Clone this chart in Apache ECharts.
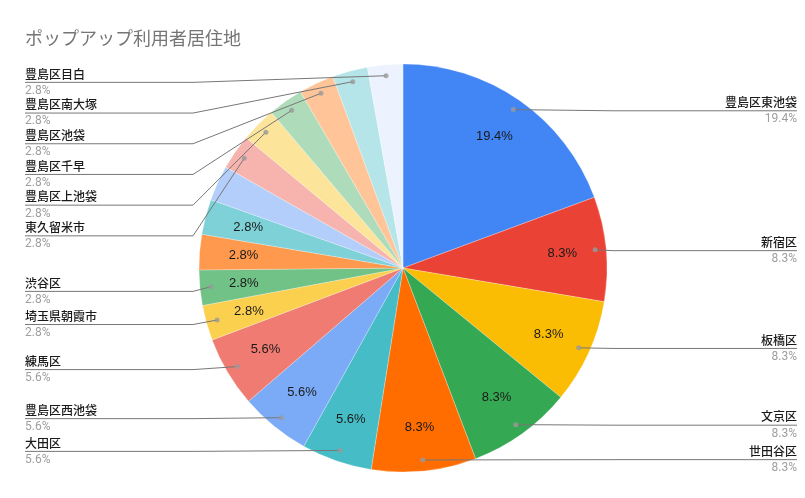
<!DOCTYPE html>
<html>
<head>
<meta charset="utf-8">
<script src="https://cdn.jsdelivr.net/npm/echarts@6/dist/echarts.min.js"></script>
<style>
  html, body { margin: 0; padding: 0; background: #fff; }
  #chart { width: 805px; height: 498px; }
</style>
</head>
<body>
<div id="chart"></div>
<script>
// ---- data ----
const titleText = 'ポップアップ利用者居住地';
const categories = ['豊島区東池袋', '新宿区', '板橋区', '文京区', '世田谷区', '大田区', '豊島区西池袋', '練馬区',
  '埼玉県朝霞市', '渋谷区', 'その他1', 'その他2', 'その他3', '東久留米市', '豊島区上池袋', '豊島区千早',
  '豊島区池袋', '豊島区南大塚', '豊島区目白'];
const values = [19.4, 8.3, 8.3, 8.3, 8.3, 5.6, 5.6, 5.6, 2.8, 2.8, 2.8, 2.8, 2.8, 2.8, 2.8, 2.8, 2.8, 2.8, 2.8];
const colors = ['#4285f4', '#ea4335', '#fbbc04', '#34a853', '#ff6d01', '#46bdc6', '#7baaf7', '#f07b72', '#fcd04f',
  '#71c287', '#ff994d', '#7ed1d7', '#b3cefb', '#f7b4ae', '#fde49b', '#aedcba', '#ffc599', '#b5e5e8', '#ecf3fe'];
const showOuterLabel = [1, 1, 1, 1, 1, 1, 1, 1, 1, 1, 0, 0, 0, 1, 1, 1, 1, 1, 1];
const showInnerLabel = [1, 1, 1, 1, 1, 1, 1, 1, 1, 1, 1, 1, 0, 0, 0, 0, 0, 0, 0];

// ---- layout/style constants ----
const CX = 403, CY = 268, R = 204, R_DOT = 193, ELBOW = 210;
const VIEW_LEFT = 25, VIEW_TOP = 67, VIEW_RIGHT = 8, VIEW_BOTTOM = 24;
const RIGHT_DY = 2;
const FONT = 'Roboto, "Noto Sans CJK JP", sans-serif';
const LH = 16.7;

const total = values.reduce((a, b) => a + b, 0);
const midAngles = [];   // in value units (for the polar angle axis)
let cum = 0;
values.forEach((v) => { midAngles.push(cum + v / 2); cum += v; });
const dotData = [];
values.forEach((v, i) => { if (showOuterLabel[i]) dotData.push([1, midAngles[i]]); });

const chart = echarts.init(document.getElementById('chart'), null, { renderer: 'canvas' });

const mainData = categories.map((n, i) => ({ name: n, value: values[i], itemStyle: { color: colors[i] } }));
const innerData = categories.map((n, i) => ({ name: n, value: values[i], label: { show: !!showInnerLabel[i] } }));
const outerData = categories.map((n, i) => ({
  name: n, value: values[i],
  label: { show: !!showOuterLabel[i] },
  labelLine: { show: !!showOuterLabel[i] }
}));

chart.setOption({
  animation: false,
  backgroundColor: '#ffffff',
  title: {
    text: titleText,
    left: 25, top: 29, padding: 0,
    textStyle: { fontSize: 18, fontWeight: 'normal', color: '#757575', fontFamily: '"Noto Sans CJK JP", Roboto, sans-serif' }
  },
  polar: { center: [CX, CY], radius: R_DOT },
  angleAxis: {
    type: 'value', min: 0, max: total, startAngle: 90, clockwise: true,
    axisLine: { show: false }, axisTick: { show: false }, axisLabel: { show: false }, splitLine: { show: false }
  },
  radiusAxis: {
    type: 'value', min: 0, max: 1,
    axisLine: { show: false }, axisTick: { show: false }, axisLabel: { show: false }, splitLine: { show: false }
  },
  series: [
    {
      type: 'pie', silent: true, z: 1,
      center: [CX, CY], radius: [0, R],
      startAngle: 90, clockwise: true,
      itemStyle: { borderColor: 'rgba(255,255,255,0.5)', borderWidth: 0.5 },
      label: { show: false }, labelLine: { show: false },
      emphasis: { disabled: true },
      data: mainData
    },
    {
      type: 'pie', silent: true, z: 3,
      center: [CX, CY], radius: [114, 200],
      startAngle: 90, clockwise: true,
      itemStyle: { color: 'rgba(0,0,0,0)' },
      label: {
        position: 'inside', formatter: '{c}%', color: '#1a1a1a',
        fontSize: 13, fontFamily: '"Liberation Sans", Arial, sans-serif'
      },
      labelLine: { show: false },
      emphasis: { disabled: true },
      data: innerData
    },
    {
      type: 'pie', silent: true, z: 5,
      left: VIEW_LEFT, top: VIEW_TOP, right: VIEW_RIGHT, bottom: VIEW_BOTTOM,
      center: [CX - VIEW_LEFT, CY - VIEW_TOP], radius: [0, R_DOT],
      startAngle: 90, clockwise: true,
      itemStyle: { color: 'rgba(0,0,0,0)' },
      avoidLabelOverlap: true,
      label: {
        position: 'outer', alignTo: 'edge', edgeDistance: 0,
        formatter: '{n|{b}}\n{p|{c}%}',
        color: '#222',
        rich: {
          n: { fontSize: 12, color: '#1a1a1a', fontWeight: 500, lineHeight: LH, fontFamily: '"Noto Sans CJK JP", sans-serif' },
          p: { fontSize: 12, color: '#9e9e9e', lineHeight: LH, fontFamily: FONT }
        }
      },
      labelLine: { show: true, length: 1, length2: 1, lineStyle: { color: '#777777', width: 1 } },
      labelLayout: function (p) {
        const pts = p.labelLinePoints;
        if (!pts || !p.labelRect) return {};
        const ang = midAngles[p.dataIndex] / total * Math.PI * 2;
        const start = [CX + R_DOT * Math.sin(ang), CY - R_DOT * Math.cos(ang)];
        const isLeft = p.labelRect.x < CX;
        const dy = isLeft ? 0 : RIGHT_DY;
        const y = pts[2][1] + dy;
        const elbowX = isLeft ? Math.min(start[0], CX - ELBOW) : Math.max(start[0], CX + ELBOW);
        const endX = isLeft ? p.labelRect.x : p.labelRect.x + p.labelRect.width;
        return { dy: dy, labelLinePoints: [start, [elbowX, y], [endX, y]] };
      },
      emphasis: { disabled: true },
      data: outerData
    },
    {
      type: 'scatter', coordinateSystem: 'polar', silent: true, z: 6,
      symbol: 'circle', symbolSize: 5,
      itemStyle: { color: '#9a9a9a' },
      data: dotData
    }
  ]
});
</script>
</body>
</html>
